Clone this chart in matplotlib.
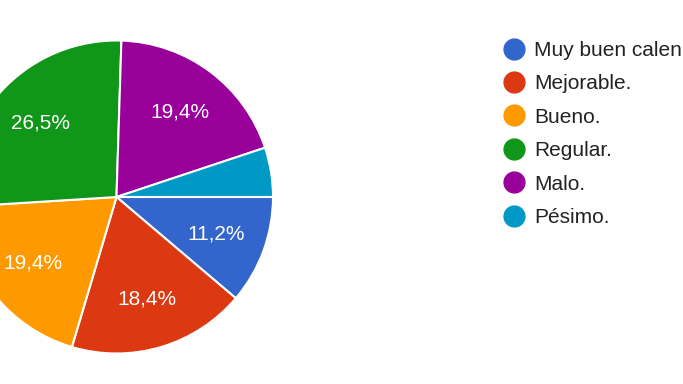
import matplotlib

matplotlib.use("Agg")
import matplotlib.pyplot as plt
from matplotlib.lines import Line2D

plt.rcParams["font.family"] = ["Liberation Sans", "DejaVu Sans"]

labels = ["Muy buen calen", "Mejorable.", "Bueno.", "Regular.", "Malo.", "Pésimo."]
shares = [11.2, 18.4, 19.4, 26.5, 19.4, 5.1]
colors = ["#3366cc", "#dc3912", "#ff9900", "#109618", "#990099", "#0099c6"]


def pct(v):
    if v < 6:
        return ""
    return f"{v:.1f}%".replace(".", ",")


W, H = 683, 384
fig = plt.figure(figsize=(W / 100, H / 100), dpi=100)

# pie centred at (116.5, 197) px from top-left, radius ~156.5 px
r = 156.5
cx, cy = 116.5, H - 197
ax = fig.add_axes([(cx - r) / W, (cy - r) / H, 2 * r / W, 2 * r / H])
wedges, texts, autotexts = ax.pie(
    shares,
    colors=colors,
    startangle=0,
    counterclock=False,
    autopct=pct,
    pctdistance=0.68,
    wedgeprops=dict(edgecolor="white", linewidth=1.5),
    textprops=dict(color="white", fontsize=15),
)
ax.set_xlim(-1, 1)
ax.set_ylim(-1, 1)
ax.set_aspect("equal")
ax.axis("off")

handles = [
    Line2D([], [], marker="o", linestyle="", markersize=15, markerfacecolor=c, markeredgecolor=c)
    for c in colors
]
fig.legend(
    handles,
    labels,
    loc="upper left",
    bbox_to_anchor=(504 / W, 1 - 41 / H),
    frameon=False,
    fontsize=15,
    labelcolor="#222222",
    handlelength=1.0,
    handletextpad=0.45,
    labelspacing=0.69,
    borderpad=0,
    borderaxespad=0,
)

fig.savefig("out.png", dpi=100)
plt.close(fig)
